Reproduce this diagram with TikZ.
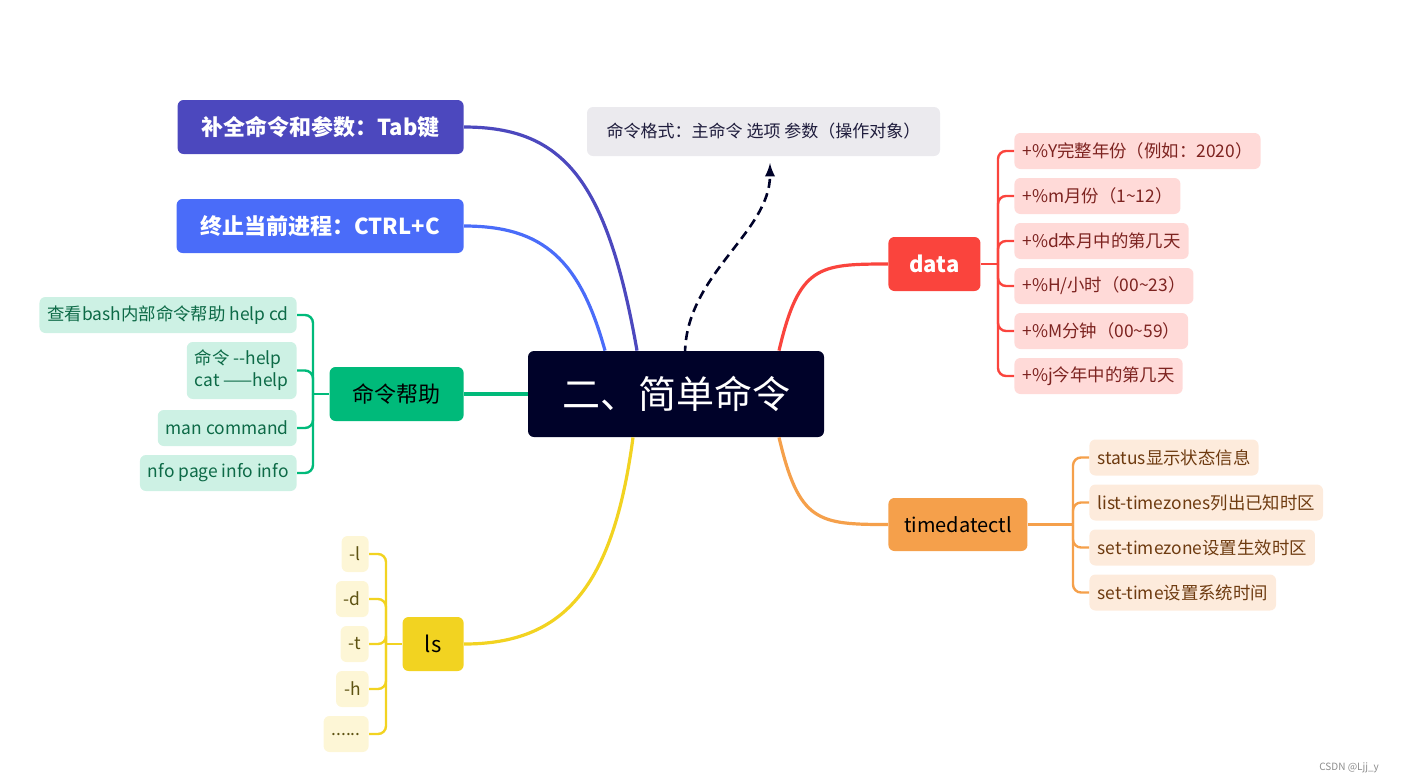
\documentclass[tikz,border=0pt]{standalone}
\usepackage{fontspec}
\setmainfont{Noto Sans CJK SC}
\definecolor{rootfill}{RGB}{0,2,41}
\definecolor{tabfill}{RGB}{76,72,190}
\definecolor{ctrlfill}{RGB}{74,108,249}
\definecolor{helpfill}{RGB}{0,186,122}
\definecolor{helpleaf}{RGB}{205,241,228}
\definecolor{helptext}{RGB}{13,106,71}
\definecolor{lsfill}{RGB}{242,211,33}
\definecolor{lsleaf}{RGB}{253,246,214}
\definecolor{lstext}{RGB}{94,83,18}
\definecolor{datafill}{RGB}{250,68,61}
\definecolor{dataleaf}{RGB}{255,218,216}
\definecolor{datatext}{RGB}{125,35,32}
\definecolor{tdcfill}{RGB}{245,160,75}
\definecolor{tdcleaf}{RGB}{253,235,220}
\definecolor{tdctext}{RGB}{110,59,16}
\definecolor{notefill}{RGB}{235,234,238}
\definecolor{notetext}{RGB}{30,28,60}

\begin{document}
\begin{tikzpicture}[x=.5pt,y=-.5pt,
  box/.style={rounded corners=3pt,inner sep=0pt,align=center},
  leaf/.style={rounded corners=3pt,inner xsep=4pt,inner ysep=0pt,minimum height=18pt,align=left,font=\fontsize{8.7pt}{11pt}\selectfont},
  bigfont/.style={font=\fontsize{11pt}{13pt}\selectfont},
  boldfont/.style={font=\fontsize{11pt}{13pt}\selectfont\bfseries},
  branch/.style={line width=1.6pt},
  brace/.style={line width=1.2pt,rounded corners=4pt}]
\useasboundingbox (0,0) rectangle (1401,783);

% centre and note
\node[box,fill=rootfill,text=white,minimum width=148pt,minimum height=43pt,font=\fontsize{19pt}{22pt}\selectfont] (root) at (676,394) {二、简单命令};
\node[box,fill=notefill,text=notetext,minimum width=176.5pt,minimum height=24.5pt,font=\fontsize{8.5pt}{10pt}\selectfont] (note) at (763.5,131.5) {命令格式：主命令 选项 参数（操作对象）};
\coordinate (noteend) at (770,163);
\draw[rootfill,line width=1.3pt,dash pattern=on 4.5pt off 2.8pt,-latex] ([xshift=4.5pt,yshift=-2pt]root.north) .. controls +(0,-80) and +(0,70) .. (noteend);

% left branches
\node[box,fill=tabfill,text=white,boldfont,minimum width=143pt,minimum height=27pt,anchor=east] (tab) at (464,127) {补全命令和参数：Tab键};
\draw[branch,tabfill] ([xshift=-19.5pt]root.north) .. controls +(-30,-170) and +(100,0) .. (tab.east);
\node[box,fill=ctrlfill,text=white,boldfont,minimum width=143.5pt,minimum height=27pt,anchor=east] (ctrl) at (464,226) {终止当前进程：CTRL+C};
\draw[branch,ctrlfill] ([xshift=-35.5pt]root.north) .. controls +(-25,-90) and +(80,0) .. (ctrl.east);
\node[box,fill=helpfill,text=black,bigfont,minimum width=67pt,minimum height=27pt,anchor=east] (help) at (464,394) {命令帮助};
\draw[branch,helpfill] (root.west) -- (help.east);
\node[box,fill=lsfill,text=black,bigfont,minimum width=30.5pt,minimum height=27pt,anchor=east] (ls) at (464,644) {ls};
\draw[branch,lsfill] ([xshift=-21.5pt]root.south) .. controls +(-20,150) and +(100,0) .. (ls.east);

% right branches
\node[box,fill=datafill,text=white,boldfont,minimum width=46pt,minimum height=27pt,anchor=west] (data) at (888,264) {data};
\draw[branch,datafill] ([xshift=51.5pt]root.north) .. controls +(20,-85) and +(-70,0) .. (data.west);
\node[box,fill=tdcfill,text=black,font=\fontsize{10pt}{12pt}\selectfont,minimum width=69.5pt,minimum height=26.5pt,anchor=west] (tdc) at (888,524.5) {timedatectl};
\draw[branch,tdcfill] ([xshift=51.5pt]root.south) .. controls +(20,85) and +(-70,0) .. (tdc.west);

% help leaves
\node[leaf,fill=helpleaf,text=helptext,anchor=east] (help1) at (297,315) {查看bash内部命令帮助 help cd};
\node[leaf,fill=helpleaf,text=helptext,anchor=east,minimum height=28.5pt] (help2) at (297,370.5) {命令 -{}-help\\cat ——help};
\node[leaf,fill=helpleaf,text=helptext,anchor=east] (help3) at (297,428) {man command};
\node[leaf,fill=helpleaf,text=helptext,anchor=east] (help4) at (297,473) {nfo page info info};
\coordinate (helpbar) at (313,394);
\draw[brace,helpfill] (help.west) -- (helpbar);
\draw[brace,helpfill] (helpbar) |- (help1.east);
\draw[brace,helpfill] (helpbar) |- (help2.east);
\draw[brace,helpfill] (helpbar) |- (help3.east);
\draw[brace,helpfill] (helpbar) |- (help4.east);

% ls leaves
\node[leaf,fill=lsleaf,text=lstext,anchor=east] (ls1) at (369,554) {-l};
\node[leaf,fill=lsleaf,text=lstext,anchor=east] (ls2) at (369,599) {-d};
\node[leaf,fill=lsleaf,text=lstext,anchor=east] (ls3) at (369,644) {-t};
\node[leaf,fill=lsleaf,text=lstext,anchor=east] (ls4) at (369,689) {-h};
\node[leaf,fill=lsleaf,text=lstext,anchor=east] (ls5) at (369,734) {......};
\coordinate (lsbar) at (386,644);
\draw[brace,lsfill] (ls.west) -- (lsbar);
\draw[brace,lsfill] (lsbar) |- (ls1.east);
\draw[brace,lsfill] (lsbar) |- (ls2.east);
\draw[brace,lsfill] (lsbar) |- (ls3.east);
\draw[brace,lsfill] (lsbar) |- (ls4.east);
\draw[brace,lsfill] (lsbar) |- (ls5.east);

% data leaves
\node[leaf,fill=dataleaf,text=datatext,anchor=west] (data1) at (1014,151) {+\%Y完整年份（例如：2020）};
\node[leaf,fill=dataleaf,text=datatext,anchor=west] (data2) at (1014,196) {+\%m月份（1\textasciitilde12）};
\node[leaf,fill=dataleaf,text=datatext,anchor=west] (data3) at (1014,241) {+\%d本月中的第几天};
\node[leaf,fill=dataleaf,text=datatext,anchor=west] (data4) at (1014,286) {+\%H/小时（00\textasciitilde23）};
\node[leaf,fill=dataleaf,text=datatext,anchor=west] (data5) at (1014,331) {+\%M分钟（00\textasciitilde59）};
\node[leaf,fill=dataleaf,text=datatext,anchor=west] (data6) at (1014,376) {+\%j今年中的第几天};
\coordinate (databar) at (998,264);
\draw[brace,datafill] (data.east) -- (databar);
\draw[brace,datafill] (databar) |- (data1.west);
\draw[brace,datafill] (databar) |- (data2.west);
\draw[brace,datafill] (databar) |- (data3.west);
\draw[brace,datafill] (databar) |- (data4.west);
\draw[brace,datafill] (databar) |- (data5.west);
\draw[brace,datafill] (databar) |- (data6.west);

% timedatectl leaves
\node[leaf,fill=tdcleaf,text=tdctext,anchor=west] (tdc1) at (1089,457.5) {status显示状态信息};
\node[leaf,fill=tdcleaf,text=tdctext,anchor=west] (tdc2) at (1089,502.5) {list-timezones列出已知时区};
\node[leaf,fill=tdcleaf,text=tdctext,anchor=west] (tdc3) at (1089,547.5) {set-timezone设置生效时区};
\node[leaf,fill=tdcleaf,text=tdctext,anchor=west] (tdc4) at (1089,592.5) {set-time设置系统时间};
\coordinate (tdcbar) at (1073,524.5);
\draw[brace,tdcfill] (tdc.east) -- (tdcbar);
\draw[brace,tdcfill] (tdcbar) |- (tdc1.west);
\draw[brace,tdcfill] (tdcbar) |- (tdc2.west);
\draw[brace,tdcfill] (tdcbar) |- (tdc3.west);
\draw[brace,tdcfill] (tdcbar) |- (tdc4.west);

\node[text=black!45,font=\fontsize{5pt}{6pt}\selectfont,anchor=east] (mark) at (1386,768) {CSDN @Ljj\_y};
\end{tikzpicture}
\end{document}
